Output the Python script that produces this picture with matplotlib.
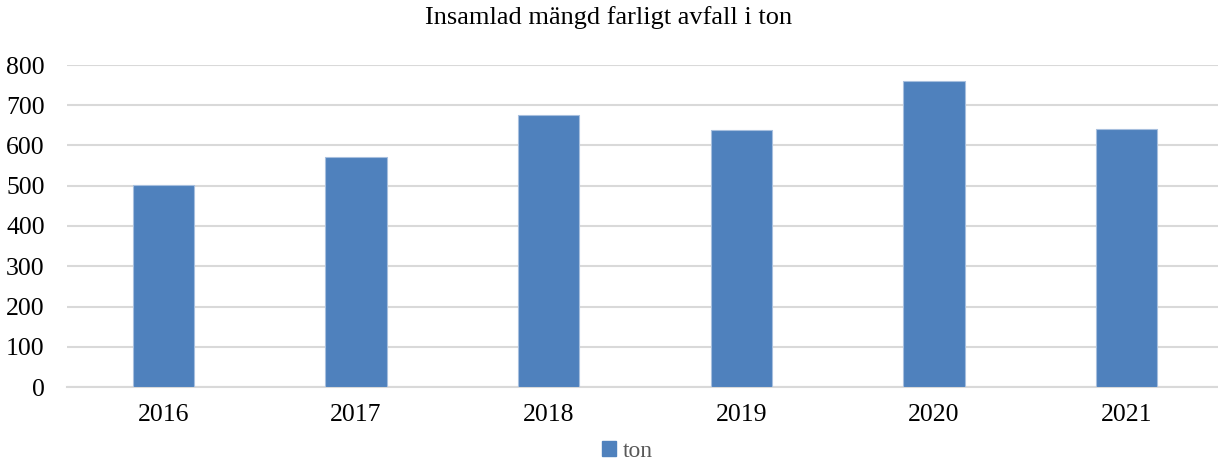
import matplotlib
matplotlib.use("Agg")
import matplotlib.pyplot as plt
from matplotlib.patches import Patch

years = ["2016", "2017", "2018", "2019", "2020", "2021"]
ton = [502, 572, 676, 638, 761, 641]
yticks = [0, 100, 200, 300, 400, 500, 600, 700, 800]

plt.rcParams['font.family'] = ['Liberation Serif', 'DejaVu Serif']

fig = plt.figure(figsize=(12.18, 4.61), dpi=100)
ax = fig.add_axes([67/1218, (461-387)/461, (1223-67)/1218, (387-65)/461])

x = range(len(years))
ax.bar(x, ton, width=0.317, color='#4F81BD', edgecolor='#A7BFDE', linewidth=0.8, zorder=3)
ax.set_xlim(-0.5, len(years)-0.5)
ax.set_ylim(0, 800)
ax.set_yticks(yticks)
ax.set_yticklabels([str(v) for v in yticks], fontsize=18.5)
ax.set_xticks(list(x))
ax.set_xticklabels(years, fontsize=18.5)
ax.grid(axis='y', color='#D9D9D9', linewidth=1.5, zorder=0)
for s in ['top', 'right', 'left']:
    ax.spines[s].set_visible(False)
ax.spines['bottom'].set_color('#D9D9D9')
ax.spines['bottom'].set_linewidth(1.5)
ax.tick_params(axis='x', length=0, pad=12)
ax.tick_params(axis='y', length=0, pad=16)

fig.text(0.5, 1 - 18/461, "Insamlad mängd farligt avfall i ton", ha='center', va='center', fontsize=19)

handles = [Patch(facecolor='#4F81BD', edgecolor='#4F81BD')]
fig.legend(handles, ['ton'], loc='center', bbox_to_anchor=(0.515, 1 - 451/461), frameon=False,
           fontsize=17, handlelength=0.6, handleheight=0.6, handletextpad=0.3, labelcolor='#595959')

fig.savefig("out.png", dpi=100)
